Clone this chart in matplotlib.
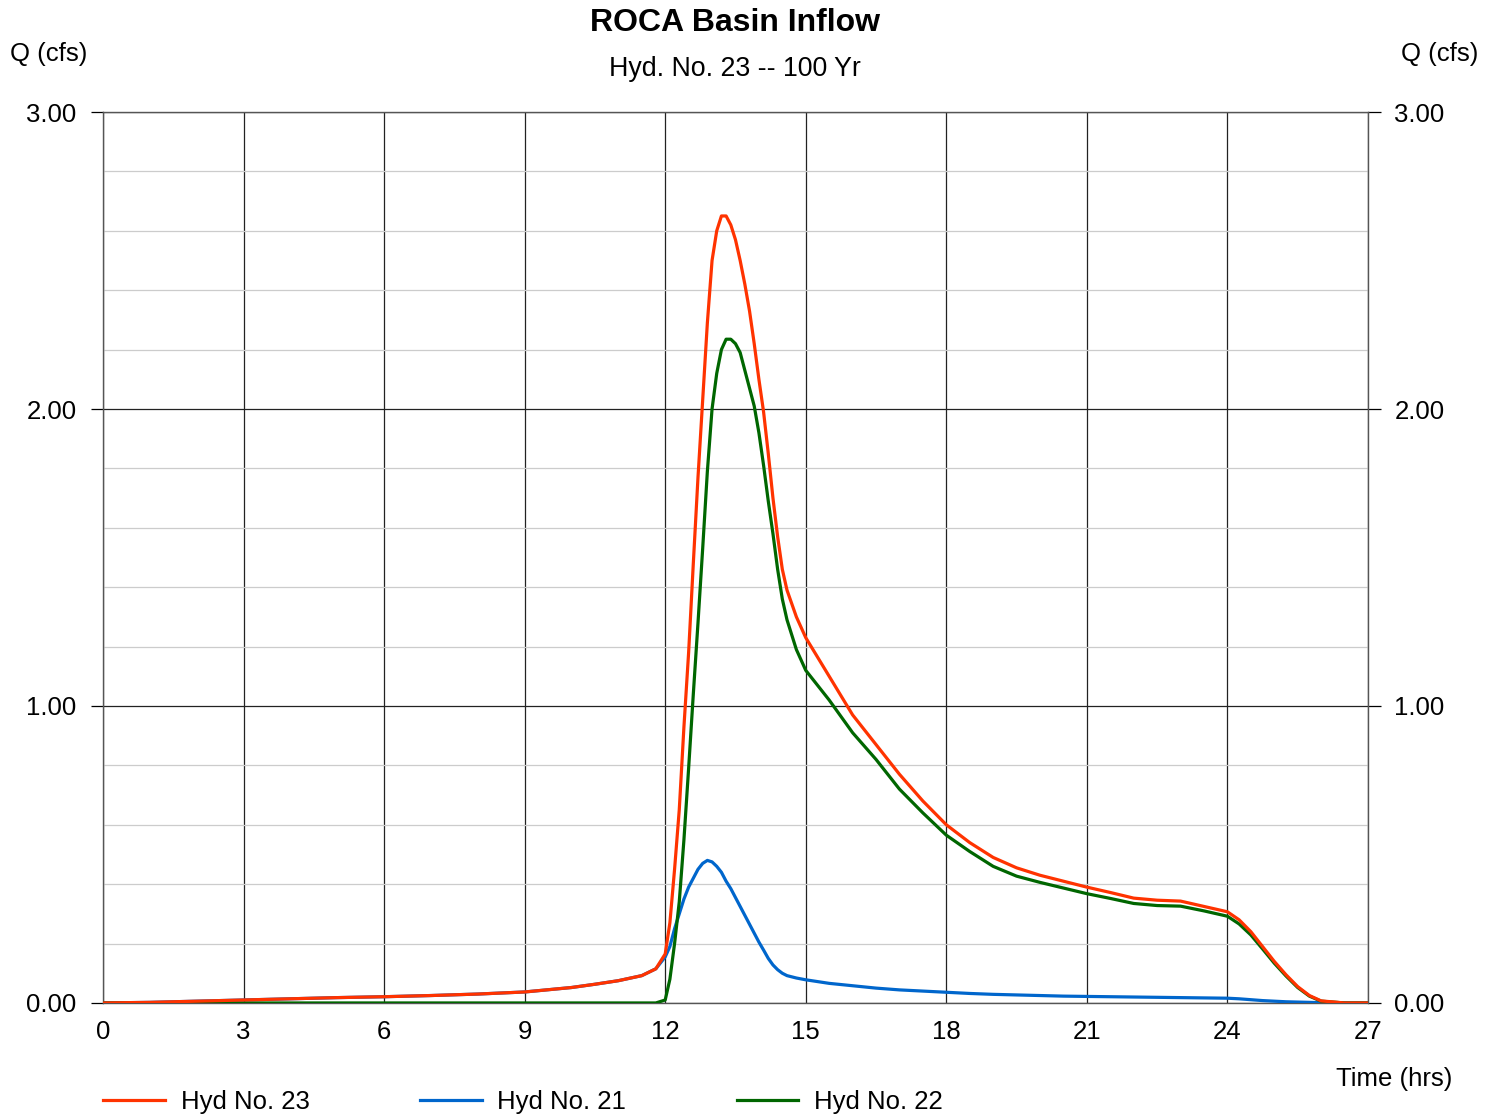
import numpy as np
import matplotlib.pyplot as plt
from matplotlib.ticker import MultipleLocator

plt.rcParams['font.family'] = ['Liberation Sans', 'DejaVu Sans']

# time (hrs)
time_hrs = [0, 1, 2, 3, 4, 5, 6, 7, 8, 9, 10, 10.5, 11, 11.5, 11.8,
            12.0, 12.1, 12.2, 12.3, 12.4, 12.5, 12.6, 12.7, 12.8, 12.9,
            13.0, 13.1, 13.2, 13.3, 13.4, 13.5, 13.6, 13.7, 13.8, 13.9,
            14.0, 14.1, 14.2, 14.3, 14.4, 14.5, 14.6, 14.8, 15.0, 15.5,
            16, 16.5, 17, 17.5, 18, 18.5, 19, 19.5, 20, 20.5, 21, 21.5,
            22, 22.5, 23, 23.5, 24, 24.25, 24.5, 24.75, 25, 25.25, 25.5,
            25.75, 26, 26.5, 27]

# Hyd No. 23 (combined inflow)
hyd23 = [0, 0.002, 0.006, 0.010, 0.014, 0.018, 0.021, 0.025, 0.030, 0.037,
         0.052, 0.063, 0.075, 0.092, 0.115,
         0.165, 0.27, 0.45, 0.65, 0.93, 1.18, 1.48, 1.77, 2.03, 2.29,
         2.50, 2.60, 2.65, 2.65, 2.62, 2.57, 2.50, 2.42, 2.33, 2.22,
         2.10, 1.99, 1.85, 1.70, 1.57, 1.46, 1.39, 1.30, 1.23, 1.10,
         0.97, 0.87, 0.77, 0.68, 0.60, 0.54, 0.49, 0.455, 0.43, 0.41, 0.39, 0.372,
         0.353, 0.346, 0.343, 0.325, 0.307, 0.28, 0.24, 0.19, 0.14, 0.095, 0.055,
         0.025, 0.007, 0, 0]

# Hyd No. 21
hyd21 = [0, 0.002, 0.006, 0.010, 0.014, 0.018, 0.021, 0.025, 0.030, 0.037,
         0.052, 0.063, 0.075, 0.092, 0.115,
         0.155, 0.19, 0.25, 0.30, 0.35, 0.39, 0.42, 0.45, 0.47, 0.48,
         0.475, 0.46, 0.44, 0.41, 0.385, 0.355, 0.325, 0.295, 0.265, 0.235,
         0.205, 0.178, 0.15, 0.128, 0.112, 0.100, 0.092, 0.084, 0.078, 0.066,
         0.058, 0.050, 0.044, 0.040, 0.036, 0.032, 0.029, 0.027, 0.025, 0.023, 0.022, 0.021,
         0.020, 0.019, 0.018, 0.017, 0.016, 0.014, 0.011, 0.008, 0.006, 0.004, 0.003,
         0.002, 0.001, 0, 0]

# Hyd No. 22
hyd22 = [0, 0, 0, 0, 0, 0, 0, 0, 0, 0,
         0, 0, 0, 0, 0,
         0.01, 0.08, 0.20, 0.34, 0.55, 0.79, 1.04, 1.28, 1.53, 1.79,
         2.00, 2.12, 2.20, 2.235, 2.235, 2.22, 2.19, 2.13, 2.07, 2.01,
         1.92, 1.81, 1.69, 1.58, 1.46, 1.36, 1.29, 1.19, 1.12, 1.02,
         0.91, 0.82, 0.72, 0.64, 0.565, 0.51, 0.46, 0.427, 0.406, 0.387, 0.368, 0.352,
         0.335, 0.328, 0.326, 0.31, 0.292, 0.266, 0.229, 0.182, 0.134, 0.091, 0.052,
         0.023, 0.006, 0, 0]

fig = plt.figure(figsize=(14.97, 11.18), dpi=100)
ax = fig.add_axes([0.0688, 0.1029, 0.8450, 0.7969])

ax.plot(time_hrs, hyd21, color='#0066CC', lw=2.3, label='Hyd No. 21', zorder=3)
ax.plot(time_hrs, hyd22, color='#006600', lw=2.3, label='Hyd No. 22', zorder=4)
ax.plot(time_hrs, hyd23, color='#FF3300', lw=2.3, label='Hyd No. 23', zorder=5)

ax.set_xlim(0, 27)
ax.set_ylim(0, 3)
ax.xaxis.set_major_locator(MultipleLocator(3))
ax.yaxis.set_major_locator(MultipleLocator(1))
ax.yaxis.set_minor_locator(MultipleLocator(0.2))
ax.yaxis.set_major_formatter(lambda v, p: f'{v:.2f}')

# grid: dark major lines, light minor lines on y
ax.grid(which='major', color='#222222', lw=0.9)
ax.grid(which='minor', axis='y', color='#cccccc', lw=0.9)
ax.set_axisbelow(True)
for s in ax.spines.values():
    s.set_color('#555555')
    s.set_linewidth(1.0)

ax.tick_params(axis='y', which='major', direction='out', length=9, width=0.9,
               labelsize=18.5, pad=10, left=True, right=True,
               labelleft=True, labelright=True)
ax.tick_params(axis='y', which='minor', length=0)
ax.tick_params(axis='x', which='major', direction='in', length=0,
               labelsize=18.5, pad=12)

fig.text(0.491, 0.979, 'ROCA Basin Inflow', ha='center', va='center',
         fontsize=23, fontweight='bold')
fig.text(0.491, 0.938, 'Hyd. No. 23 -- 100 Yr', ha='center', va='center',
         fontsize=19.3)
fig.text(0.0067, 0.952, 'Q (cfs)', ha='left', va='center', fontsize=18.5)
fig.text(0.9873, 0.952, 'Q (cfs)', ha='right', va='center', fontsize=18.5)
fig.text(0.970, 0.035, 'Time (hrs)', ha='right', va='center', fontsize=18.5)

handles, labels = ax.get_legend_handles_labels()
order = [2, 0, 1]
fig.legend([handles[i] for i in order], [labels[i] for i in order],
           loc='center left', bbox_to_anchor=(0.0533, 0.014), ncol=3,
           frameon=False, fontsize=18.5, handlelength=2.4, handletextpad=0.62,
           columnspacing=4.3)

fig.savefig('out.png', dpi=100)
